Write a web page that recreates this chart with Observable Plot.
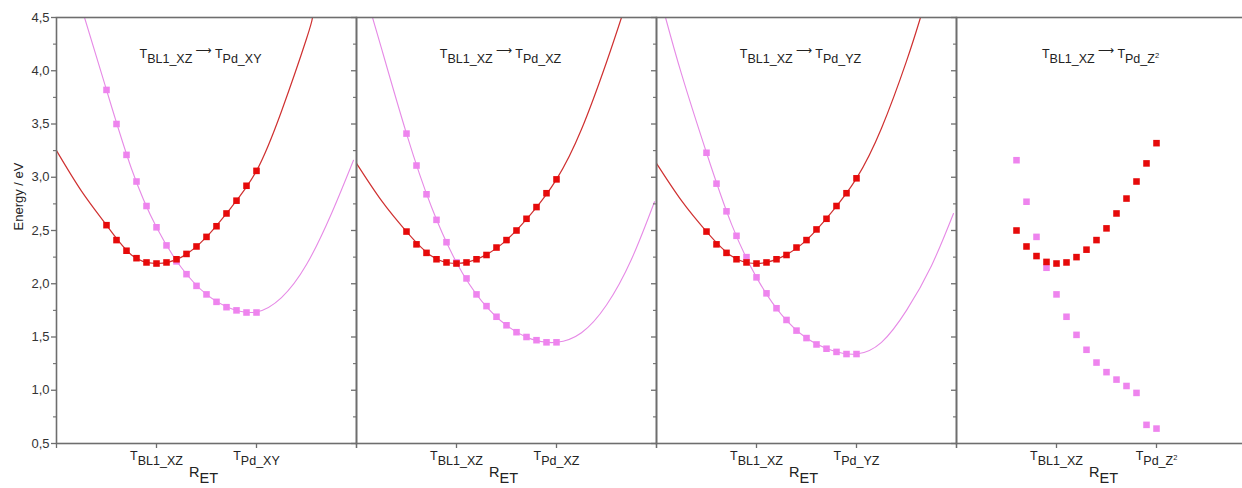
<!DOCTYPE html>
<html>
<head>
<meta charset="utf-8">
<script src="https://cdn.jsdelivr.net/npm/d3@7"></script>
<script src="https://cdn.jsdelivr.net/npm/@observablehq/plot@0.6"></script>
<style>
  html, body { margin: 0; padding: 0; background: #fff; overflow: hidden; }
  #chart svg { display: block; max-width: none !important; }
</style>
</head>
<body>
<div id="chart"></div>
<script>
// ---------- categories & labels ----------
const panels = ["XY", "XZ", "YZ", "Z2"];
const panelTitles = [
  "T_{BL1_XZ}⟶T_{Pd_XY}",
  "T_{BL1_XZ}⟶T_{Pd_XZ}",
  "T_{BL1_XZ}⟶T_{Pd_YZ}",
  "T_{BL1_XZ}⟶T_{Pd_Z^{2}}"
];
const tickLabelsBL = ["T_{BL1_XZ}", "T_{BL1_XZ}", "T_{BL1_XZ}", "T_{BL1_XZ}"];
const tickLabelsPd = ["T_{Pd_XY}", "T_{Pd_XZ}", "T_{Pd_YZ}", "T_{Pd_Z^{2}}"];
const xTickValues = [0, 1, 2, 3];
const xLabelValues = [1, 2];
const xAxisTitle = "R_{ET}";
const yAxisTitle = "Energy / eV";
const yMajorTicks = [0.5, 1.0, 1.5, 2.0, 2.5, 3.0, 3.5, 4.0, 4.5];
const yTickLabels = ["0,5", "1,0", "1,5", "2,0", "2,5", "3,0", "3,5", "4,0", "4,5"];
const yMinorTicks = [0.75, 1.25, 1.75, 2.25, 2.75, 3.25, 3.75, 4.25];

// ---------- computed points (squares) ----------
const xPoints = [0.5, 0.6, 0.7, 0.8, 0.9, 1.0, 1.1, 1.2, 1.3, 1.4, 1.5, 1.6, 1.7, 1.8, 1.9, 2.0];
const xPointsZ2 = [0.6, 0.7, 0.8, 0.9, 1.0, 1.1, 1.2, 1.3, 1.4, 1.5, 1.6, 1.7, 1.8, 1.9, 2.0];

const redXY  = [2.55, 2.41, 2.31, 2.24, 2.20, 2.19, 2.20, 2.23, 2.28, 2.35, 2.44, 2.54, 2.66, 2.78, 2.92, 3.06];
const pinkXY = [3.82, 3.50, 3.21, 2.96, 2.73, 2.53, 2.36, 2.21, 2.09, 1.98, 1.90, 1.83, 1.78, 1.75, 1.73, 1.73];
const redXZ  = [2.49, 2.37, 2.29, 2.23, 2.20, 2.19, 2.20, 2.23, 2.27, 2.34, 2.41, 2.50, 2.61, 2.72, 2.85, 2.98];
const pinkXZ = [3.41, 3.11, 2.84, 2.60, 2.39, 2.20, 2.05, 1.90, 1.79, 1.69, 1.61, 1.545, 1.50, 1.47, 1.45, 1.45];
const redYZ  = [2.49, 2.37, 2.29, 2.23, 2.20, 2.19, 2.20, 2.23, 2.27, 2.34, 2.41, 2.51, 2.61, 2.73, 2.85, 2.99];
const pinkYZ = [3.23, 2.94, 2.68, 2.45, 2.25, 2.06, 1.91, 1.77, 1.66, 1.56, 1.49, 1.43, 1.39, 1.36, 1.34, 1.34];
const redZ2  = [2.50, 2.35, 2.26, 2.205, 2.19, 2.20, 2.25, 2.32, 2.41, 2.52, 2.66, 2.80, 2.96, 3.13, 3.32];
const pinkZ2 = [3.16, 2.77, 2.44, 2.15, 1.90, 1.69, 1.52, 1.38, 1.26, 1.17, 1.10, 1.04, 0.975, 0.675, 0.64];

// ---------- fitted curves ----------
const redFitX_XY  = [0, 0.25, 0.5, 0.75, 1.0, 1.25, 1.5, 1.75, 2.0, 2.25, 2.5, 2.56];
const redFitY_XY  = [3.25, 2.87, 2.55, 2.27, 2.19, 2.25, 2.44, 2.72, 3.06, 3.62, 4.30, 4.5];
const pinkFitX_XY = [0.28, 0.5, 0.75, 1.0, 1.25, 1.5, 1.75, 2.0, 2.25, 2.5, 2.75, 2.97];
const pinkFitY_XY = [4.5, 3.82, 3.08, 2.53, 2.15, 1.90, 1.765, 1.735, 1.87, 2.18, 2.66, 3.16];

const redFitX_XZ  = [0, 0.25, 0.5, 0.75, 1.0, 1.25, 1.5, 1.75, 2.0, 2.25, 2.5, 2.65];
const redFitY_XZ  = [3.13, 2.78, 2.49, 2.26, 2.19, 2.25, 2.41, 2.66, 2.98, 3.45, 4.08, 4.5];
const pinkFitX_XZ = [0.16, 0.25, 0.5, 0.75, 1.0, 1.25, 1.5, 1.75, 2.0, 2.25, 2.5, 2.75, 2.98];
const pinkFitY_XZ = [4.5, 4.21, 3.41, 2.72, 2.20, 1.84, 1.61, 1.48, 1.45, 1.54, 1.80, 2.23, 2.77];

const redFitX_YZ  = [0, 0.25, 0.5, 0.75, 1.0, 1.25, 1.5, 1.75, 2.0, 2.25, 2.5, 2.64];
const redFitY_YZ  = [3.13, 2.78, 2.49, 2.26, 2.19, 2.25, 2.41, 2.67, 2.99, 3.46, 4.09, 4.5];
const pinkFitX_YZ = [0.09, 0.25, 0.5, 0.75, 1.0, 1.25, 1.5, 1.75, 2.0, 2.25, 2.5, 2.75, 2.97];
const pinkFitY_YZ = [4.5, 3.97, 3.23, 2.56, 2.06, 1.71, 1.49, 1.375, 1.34, 1.45, 1.75, 2.17, 2.66];

// ---------- build tables ----------
const pointSets = [
  {panel: panels[0], x: xPoints,   red: redXY, pink: pinkXY},
  {panel: panels[1], x: xPoints,   red: redXZ, pink: pinkXZ},
  {panel: panels[2], x: xPoints,   red: redYZ, pink: pinkYZ},
  {panel: panels[3], x: xPointsZ2, red: redZ2, pink: pinkZ2}
];
const redPts  = pointSets.flatMap(s => s.x.map((x, i) => ({panel: s.panel, x, y: s.red[i]})));
const pinkPts = pointSets.flatMap(s => s.x.map((x, i) => ({panel: s.panel, x, y: s.pink[i]})));

const fitSets = [
  {panel: panels[0], rx: redFitX_XY, ry: redFitY_XY, px: pinkFitX_XY, py: pinkFitY_XY},
  {panel: panels[1], rx: redFitX_XZ, ry: redFitY_XZ, px: pinkFitX_XZ, py: pinkFitY_XZ},
  {panel: panels[2], rx: redFitX_YZ, ry: redFitY_YZ, px: pinkFitX_YZ, py: pinkFitY_YZ}
];
const redFit  = fitSets.flatMap(s => s.rx.map((x, i) => ({panel: s.panel, x, y: s.ry[i]})));
const pinkFit = fitSets.flatMap(s => s.px.map((x, i) => ({panel: s.panel, x, y: s.py[i]})));

const panelRows = panels.map((p, i) => ({panel: p, title: panelTitles[i], xtitle: xAxisTitle}));
const xLabels = panels.flatMap((p, i) => [
  {panel: p, x: xLabelValues[0], label: tickLabelsBL[i]},
  {panel: p, x: xLabelValues[1], label: tickLabelsPd[i]}
]);
const yLabelMap = new Map(yMajorTicks.map((v, i) => [v, yTickLabels[i]]));

// ---------- styles ----------
const axisGray = "#6e6e6e";
const textColor = "#222";
const redLine = "#cf3030", redDot = "#e60a0a";
const pinkLine = "#e68ae6", pinkDot = "#ee84ee";

const chart = Plot.plot({
  width: 1258,
  height: 488,
  marginLeft: 54,
  marginRight: 1,
  marginTop: 17,
  marginBottom: 45,
  style: {fontFamily: "'Liberation Sans', Arial, sans-serif", background: "#fff", color: textColor, maxWidth: "none"},
  fx: {domain: panels, padding: 0, axis: null},
  x: {domain: [0, 3]},
  y: {domain: [0.5, 4.5]},
  marks: [
    Plot.line(redFit,  {fx: "panel", x: "x", y: "y", stroke: redLine,  strokeWidth: 1.2, curve: "natural", clip: true}),
    Plot.line(pinkFit, {fx: "panel", x: "x", y: "y", stroke: pinkLine, strokeWidth: 1.1, curve: "natural", clip: true}),
    Plot.dot(pinkPts, {fx: "panel", x: "x", y: "y", symbol: "square", r: 3.7, fill: pinkDot, stroke: "none"}),
    Plot.dot(redPts,  {fx: "panel", x: "x", y: "y", symbol: "square", r: 3.7, fill: redDot,  stroke: "none"}),
    Plot.frame({stroke: axisGray, strokeWidth: 1.6}),
    Plot.axisX({ticks: xTickValues, tickSize: 5, stroke: axisGray, strokeWidth: 1.3, fill: "none", label: null}),
    Plot.axisY({ticks: yMajorTicks, tickSize: 5, stroke: axisGray, strokeWidth: 1.3, fill: "none", label: null, facetAnchor: null}),
    Plot.axisY({ticks: yMinorTicks, tickSize: 3, stroke: axisGray, strokeWidth: 1.1, fill: "none", label: null, facetAnchor: null}),
    Plot.axisY({ticks: yMajorTicks, tickSize: 0, tickPadding: 7, stroke: "none", fill: "#333", fontSize: 13,
                tickFormat: d => yLabelMap.get(d), label: null}),
    Plot.text(xLabels, {fx: "panel", x: "x", text: "label", frameAnchor: "bottom", dy: 16, fontSize: 12.5, fill: textColor}),
    Plot.text(panelRows, {fx: "panel", text: "xtitle", frameAnchor: "bottom", dx: -3, dy: 33.5, fontSize: 14.5, fill: textColor}),
    Plot.text(panelRows, {fx: "panel", text: "title", frameAnchor: "top", dx: -6, dy: 31.5, fontSize: 12.5, fill: textColor}),
    Plot.text([{panel: panels[0], t: yAxisTitle}], {fx: "panel", text: "t", frameAnchor: "left", rotate: -90, dx: -38, fontSize: 13, fill: textColor})
  ]
});
document.getElementById("chart").append(chart);

// ---------- rich text: _{sub}, ^{sup}, arrow ----------
function parseRich(str, shift, size, fs, out) {
  let buf = "";
  const flush = () => { if (buf) { out.push({t: buf, shift, size}); buf = ""; } };
  for (let i = 0; i < str.length; i++) {
    const c = str[i];
    if ((c === "_" || c === "^") && str[i + 1] === "{") {
      flush();
      let depth = 1, j = i + 2;
      while (j < str.length && depth) {
        if (str[j] === "{") depth++;
        else if (str[j] === "}") depth--;
        j++;
      }
      const inner = str.slice(i + 2, j - 1);
      if (c === "_") parseRich(inner, shift + Math.min(5.5, 0.44 * fs) * size, size, fs, out);
      else parseRich(inner, shift - 0.42 * fs * size, size * 0.6, fs, out);
      i = j - 1;
    } else if (c === "⟶") {
      flush();
      out.push({t: c, shift: shift - 0.3 * fs, size: size * 0.9, arrow: true});
    } else {
      buf += c;
    }
  }
  flush();
  return out;
}
d3.select(chart).selectAll("text").each(function () {
  const s = this.textContent;
  if (!/[_^]\{|⟶/.test(s)) return;
  const fs = parseFloat(getComputedStyle(this).fontSize) || 12;
  const segs = parseRich(s, 0, 1, fs, []);
  const el = d3.select(this);
  el.text(null);
  let cur = 0, prevArrow = false;
  segs.forEach((seg, k) => {
    const ts = el.append("tspan").text(seg.t);
    const target = seg.shift;
    if (k > 0 || target !== 0) ts.attr("dy", (target - cur).toFixed(2));
    cur = target;
    if (seg.size !== 1) ts.attr("font-size", (seg.size * fs).toFixed(2));
    if (seg.arrow) ts.attr("dx", 3).attr("font-family", "'DejaVu Sans', sans-serif");
    else if (prevArrow) ts.attr("dx", 3.5);
    prevArrow = !!seg.arrow;
  });
});
</script>
</body>
</html>
